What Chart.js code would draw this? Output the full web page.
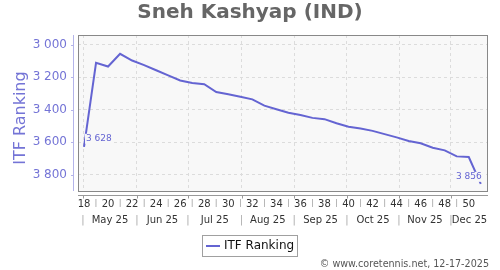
<!DOCTYPE html>
<html>
<head>
<meta charset="utf-8">
<script src="https://cdn.jsdelivr.net/npm/chart.js@4.4.1/dist/chart.umd.min.js"></script>
<style>
    html, body { margin: 0; padding: 0; background: #fff; }
</style>
</head>
<body>
<canvas id="grafico1" width="500" height="270"></canvas>
<script>
// Semanas 2025 y ranking ITF
const weeks = [18, 19, 20, 21, 22, 23, 24, 25, 26, 27, 28, 29, 30, 31, 32, 33, 34,
               35, 36, 37, 38, 39, 40, 41, 42, 43, 44, 45, 46, 47, 48, 49, 50, 51];
const ranking = [3628, 3111, 3134, 3056, 3097, 3125, 3157, 3188, 3220, 3235, 3243, 3291,
                 3305, 3320, 3336, 3375, 3397, 3418, 3432, 3450, 3458, 3483, 3505, 3515,
                 3530, 3550, 3570, 3592, 3606, 3634, 3650, 3687, 3691, 3856];
const yTicks = [3000, 3200, 3400, 3600, 3800];
const weekTicks = [18, 19, 20, 21, 22, 23, 24, 25, 26, 27, 28, 29, 30, 31, 32, 33, 34,
                   35, 36, 37, 38, 39, 40, 41, 42, 43, 44, 45, 46, 47, 48, 49, 50];
// inicio de cada mes, en semanas
const monthStarts = [17.92, 22.4, 26.65, 31.1, 35.47, 39.87, 44.2, 48.52];
const monthLabels = ['May 25', 'Jun 25', 'Jul 25', 'Aug 25', 'Sep 25', 'Oct 25', 'Nov 25', 'Dec 25'];

const X_MIN = 17.5, X_MAX = 51.6;
const lineColor = '#6464d2';
const axisText = '#7474d6';

Chart.defaults.font.family = '"DejaVu Sans", sans-serif';

const fmt = v => String(v).replace(/\B(?=(\d{3})+(?!\d))/g, ' ');

// mitad de cada mes para las etiquetas
const monthMids = monthStarts.map((s, i) => (s + (i + 1 < monthStarts.length ? monthStarts[i + 1] : X_MAX)) / 2);

const framePlugin = {
    id: 'frame',
    beforeDraw(chart) {
        const {ctx, chartArea: a} = chart;
        ctx.save();
        ctx.fillStyle = '#fff';
        ctx.fillRect(0, 0, chart.width, chart.height);
        ctx.fillStyle = '#f8f8f8';
        ctx.fillRect(a.left, a.top, a.right - a.left, a.bottom - a.top);
        ctx.restore();
    },
    afterDatasetsDraw(chart) {
        const {ctx} = chart;
        const meta = chart.getDatasetMeta(0);
        const p0 = meta.data[0];
        const pn = meta.data[meta.data.length - 1];
        ctx.save();
        ctx.font = '9px "DejaVu Sans"';
        ctx.textBaseline = 'middle';
        // primer valor
        let t = fmt(ranking[0]);
        let w = ctx.measureText(t).width;
        ctx.fillStyle = '#f8f8f8';
        ctx.fillRect(p0.x + 1, p0.y - 13, w + 2, 10);
        ctx.fillStyle = lineColor;
        ctx.textAlign = 'left';
        ctx.fillText(t, p0.x + 2, p0.y - 8);
        // último valor
        t = fmt(ranking[ranking.length - 1]);
        w = ctx.measureText(t).width;
        ctx.fillStyle = '#f8f8f8';
        ctx.fillRect(pn.x - w, pn.y - 12, w + 2, 10);
        ctx.fillStyle = lineColor;
        ctx.textAlign = 'right';
        ctx.fillText(t, pn.x + 1, pn.y - 7);
        ctx.restore();
    },
    afterDraw(chart) {
        const {ctx, chartArea: a} = chart;
        const xs = chart.scales.x;
        const ys = chart.scales.y;
        ctx.save();
        // borde del área
        ctx.strokeStyle = '#888';
        ctx.lineWidth = 1;
        ctx.strokeRect(a.left + 0.5, a.top + 0.5, a.right - a.left - 1, a.bottom - a.top);
        // eje Y separado
        ctx.strokeStyle = '#b4b4ea';
        ctx.beginPath();
        ctx.moveTo(a.left - 4.5, a.top);
        ctx.lineTo(a.left - 4.5, a.bottom);
        yTicks.forEach(v => {
            const y = Math.round(ys.getPixelForValue(v)) + 0.5;
            ctx.moveTo(a.left - 7, y);
            ctx.lineTo(a.left - 4.5, y);
        });
        ctx.stroke();
        // eje X separado
        ctx.strokeStyle = '#999';
        ctx.beginPath();
        ctx.moveTo(a.left, a.bottom + 4.5);
        ctx.lineTo(a.right, a.bottom + 4.5);
        monthStarts.forEach(v => {
            const x = Math.round(xs.getPixelForValue(v)) + 0.5;
            ctx.moveTo(x, a.bottom + 4.5);
            ctx.lineTo(x, a.bottom + 7.5);
        });
        ctx.stroke();
        // leyenda
        const ds = chart.data.datasets[0];
        const lx = 202, ly = 235, lw = 95, lh = 21;
        ctx.strokeStyle = '#a0a0a0';
        ctx.strokeRect(lx + 0.5, ly + 0.5, lw, lh);
        ctx.strokeStyle = ds.borderColor;
        ctx.lineWidth = 2;
        ctx.beginPath();
        ctx.moveTo(lx + 4, ly + 11);
        ctx.lineTo(lx + 18, ly + 11);
        ctx.stroke();
        ctx.fillStyle = '#111';
        ctx.font = '12px "DejaVu Sans"';
        ctx.textBaseline = 'middle';
        ctx.textAlign = 'left';
        ctx.fillText(ds.label, lx + 22, ly + 11);
        // copyright
        ctx.fillStyle = '#555';
        ctx.font = '9.6px "DejaVu Sans"';
        ctx.textAlign = 'right';
        ctx.fillText('\u00a9 www.coretennis.net, 12-17-2025', 489, 264);
        ctx.restore();
    }
};

const ctx = document.getElementById('grafico1').getContext('2d');
const chartInstance = new Chart(ctx, {
    type: 'line',
    data: {
        datasets: [{
            label: 'ITF Ranking',
            data: weeks.map((w, i) => ({x: w, y: ranking[i]})),
            borderColor: lineColor,
            backgroundColor: lineColor,
            borderWidth: 2,
            pointRadius: 0,
            tension: 0
        }]
    },
    options: {
        responsive: false,
        animation: false,
        layout: { padding: { top: 0, left: 0, right: 0, bottom: 43 } },
        plugins: {
            legend: { display: false },
            tooltip: { enabled: false },
            title: {
                display: true,
                text: 'Sneh Kashyap (IND)',
                color: '#666',
                font: { size: 20, weight: 'bold' },
                padding: { top: 1, bottom: 10 }
            }
        },
        scales: {
            y: {
                type: 'linear',
                reverse: true,
                min: 2940,
                max: 3900,
                afterFit: s => { s.width = 78; },
                afterBuildTicks: s => { s.ticks = yTicks.map(v => ({value: v})); },
                border: { display: false, dash: [3, 3] },
                grid: { color: '#dcdcdc', drawTicks: false },
                ticks: {
                    color: axisText,
                    padding: 11,
                    font: { size: 12 },
                    callback: v => fmt(v)
                },
                title: {
                    display: true,
                    text: 'ITF Ranking  ',
                    color: axisText,
                    font: { size: 16 },
                    padding: { top: 11, bottom: 0 }
                }
            },
            // margen derecho vacío
            yRight: {
                type: 'linear',
                position: 'right',
                afterFit: s => { s.width = 12; },
                border: { display: false },
                grid: { display: false, drawTicks: false },
                ticks: { display: false }
            },
            x: {
                type: 'linear',
                position: 'bottom',
                weight: 0,
                min: X_MIN,
                max: X_MAX,
                afterFit: s => { s.height = 16; },
                afterBuildTicks: s => { s.ticks = weekTicks.map(v => ({value: v})); },
                border: { display: false },
                grid: { display: false, drawTicks: false },
                ticks: {
                    autoSkip: false,
                    maxRotation: 0,
                    minRotation: 0,
                    padding: 7,
                    font: { size: 10 },
                    color: c => (c.tick && c.tick.value % 2 === 1) ? '#aaa' : '#333',
                    callback: v => (v % 2 === 0 ? String(v) : '|')
                }
            },
            month: {
                type: 'linear',
                axis: 'x',
                position: 'bottom',
                weight: 1,
                min: X_MIN,
                max: X_MAX,
                afterFit: s => { s.height = 20; },
                afterBuildTicks: s => {
                    s.ticks = monthStarts.concat(monthMids).sort((a, b) => a - b).map(v => ({value: v}));
                },
                border: { display: false, dash: [3, 3] },
                grid: {
                    drawOnChartArea: true,
                    drawTicks: false,
                    color: c => (c.tick && monthStarts.includes(c.tick.value)) ? '#dcdcdc' : 'rgba(0,0,0,0)'
                },
                ticks: {
                    autoSkip: false,
                    maxRotation: 0,
                    minRotation: 0,
                    padding: 7.5,
                    font: { size: 10 },
                    color: c => (c.tick && monthStarts.includes(c.tick.value)) ? '#aaa' : '#333',
                    callback: v => {
                        const i = monthMids.indexOf(v);
                        return i >= 0 ? monthLabels[i] : '|';
                    }
                }
            }
        }
    },
    plugins: [framePlugin]
});
</script>
</body>
</html>
